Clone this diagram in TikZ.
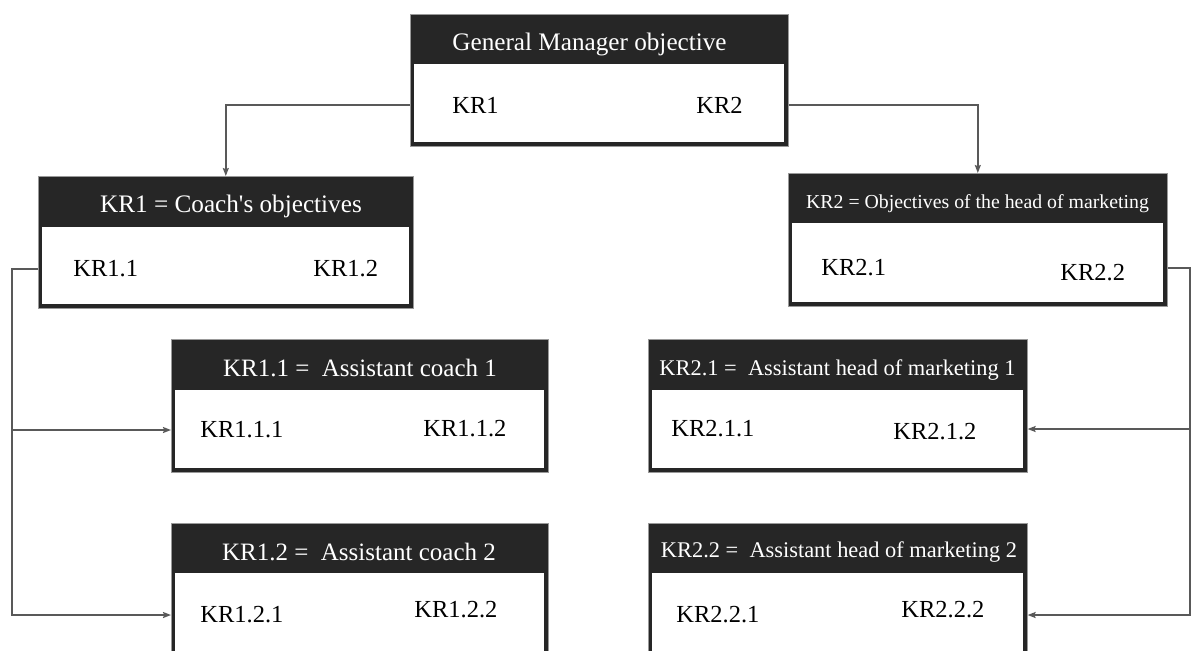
\documentclass[tikz,border=0pt]{standalone}
\usepackage{fontspec}
\setmainfont{Liberation Serif}
\usetikzlibrary{arrows.meta}

\definecolor{boxdark}{HTML}{262626}
\definecolor{linegray}{HTML}{595959}

\tikzset{
  frame/.style={draw=black!40, line width=0.3pt, fill=boxdark, inner sep=0pt, anchor=north west},
  body/.style={fill=white, inner sep=0pt, anchor=north west},
  headtxt/.style={text=white, anchor=base, inner sep=0pt},
  item/.style={anchor=west, inner sep=0pt, font=\fontsize{12.25}{14}\selectfont},
  wire/.style={draw=linegray, line width=0.75pt},
  link/.style={wire, -{Stealth[length=4pt, width=3pt, inset=0.6pt]}},
}

\begin{document}
\begin{tikzpicture}[x=0.5pt, y=-0.5pt]
  \clip (0,0) rectangle (1192,650);

  % General manager
  \node[frame, minimum width=189pt, minimum height=66pt] (gm) at (410,14) {};
  \node[body, minimum width=185pt, minimum height=39pt] (gmb) at (414,64) {};
  \node[headtxt, font=\fontsize{12.6}{15}\selectfont] (gmh) at (589.5,50) {General Manager objective};
  \node[item] (gmkr1) at (452,105) {KR1};
  \node[item] (gmkr2) at (696,105) {KR2};

  % Coach
  \node[frame, minimum width=187.5pt, minimum height=66pt] (coach) at (38,176) {};
  \node[body, minimum width=183.5pt, minimum height=38.5pt] (coachb) at (42,227) {};
  \node[headtxt, font=\fontsize{12.6}{15}\selectfont] (coachh) at (231,212) {KR1 = Coach\textquotesingle s objectives};
  \node[item] (c11) at (73,269) {KR1.1};
  \node[item] (c12) at (313,269) {KR1.2};

  % Head of marketing
  \node[frame, minimum width=189.5pt, minimum height=66.5pt] (mkt) at (788,173) {};
  \node[body, minimum width=185.5pt, minimum height=39.5pt] (mktb) at (792,223) {};
  \node[headtxt, font=\fontsize{9.9}{12}\selectfont] (mkth) at (977.5,208) {KR2 = Objectives of the head of marketing};
  \node[item] (m21) at (821,268) {KR2.1};
  \node[item] (m22) at (1060,273) {KR2.2};

  % Assistant coach 1
  \node[frame, minimum width=188.5pt, minimum height=66.5pt] (ac1) at (171,339) {};
  \node[body, minimum width=184.5pt, minimum height=39pt] (ac1b) at (175,390) {};
  \node[headtxt, font=\fontsize{12.5}{15}\selectfont] (ac1h) at (360,376) {KR1.1 =\ \ Assistant coach 1};
  \node[item] (c111) at (200,430) {KR1.1.1};
  \node[item] (c112) at (423,429) {KR1.1.2};

  % Assistant coach 2
  \node[frame, minimum width=188.5pt, minimum height=70pt] (ac2) at (171,523) {};
  \node[body, minimum width=184.5pt, minimum height=50pt] (ac2b) at (175,573) {};
  \node[headtxt, font=\fontsize{12.5}{15}\selectfont] (ac2h) at (359,560) {KR1.2 =\ \ Assistant coach 2};
  \node[item] (c121) at (200,615) {KR1.2.1};
  \node[item] (c122) at (414,610) {KR1.2.2};

  % Assistant head of marketing 1
  \node[frame, minimum width=189.5pt, minimum height=66.5pt] (ah1) at (648,339) {};
  \node[body, minimum width=185.5pt, minimum height=39pt] (ah1b) at (652,390) {};
  \node[headtxt, font=\fontsize{11.2}{14}\selectfont] (ah1h) at (837.5,375) {KR2.1 =\ \ Assistant head of marketing 1};
  \node[item] (m211) at (671,429) {KR2.1.1};
  \node[item] (m212) at (893,432) {KR2.1.2};

  % Assistant head of marketing 2
  \node[frame, minimum width=189.5pt, minimum height=70pt] (ah2) at (648,523) {};
  \node[body, minimum width=185.5pt, minimum height=50pt] (ah2b) at (652,573) {};
  \node[headtxt, font=\fontsize{11.2}{14}\selectfont] (ah2h) at (839,557) {KR2.2 =\ \ Assistant head of marketing 2};
  \node[item] (m221) at (676,615) {KR2.2.1};
  \node[item] (m222) at (901,610) {KR2.2.2};

  % bus lines along the sides
  \coordinate (lbus) at (12,0);
  \coordinate (rbus) at (1190,0);

  % connectors
  \draw[link] (gmkr1 -| gm.west) -| (coach.north);
  \draw[link] (gmkr2 -| gm.east) -| (mkt.north);

  \draw[link] (c11 -| coach.west) -- (c11 -| lbus) -- (c121 -| lbus) -- (c121 -| ac2.west);
  \draw[link] (c111 -| lbus) -- (c111 -| ac1.west);

  \draw[link] (m21 -| mkt.east) -- (m21 -| rbus) -- (m221 -| rbus) -- (m221 -| ah2.east);
  \draw[link] (m211 -| rbus) -- (m211 -| ah1.east);
\end{tikzpicture}
\end{document}
